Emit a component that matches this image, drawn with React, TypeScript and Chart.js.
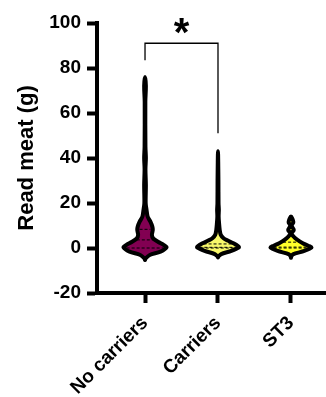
import React, { useEffect, useRef } from "react";
import { Chart, registerables } from "chart.js";
Chart.register(...registerables);

const categories = ["No carriers", "Carriers", "ST3"];
const fillColors = ["#820052", "#F8F86A", "#FFFF2A"];

// violin profiles: value levels and relative density (1 = widest)
const noCarriersLevels = [-5.3, -4.6, -3.1, -1.6, 0.3, 1.3, 2.8, 4.3, 5.8, 8, 9.5, 11.7, 14, 17, 20, 28, 35, 40, 45, 65, 72, 76];
const noCarriersDensity = [0, 0.03, 0.22, 0.72, 1, 0.88, 0.6, 0.38, 0.32, 0.36, 0.34, 0.25, 0.12, 0.07, 0.03, 0.04, 0.02, 0.04, 0.02, 0.015, 0.04, 0];
const carriersLevels = [-4.2, -3.9, -2.7, -1.3, 0.3, 0.9, 2.1, 3.3, 4.3, 5.8, 8, 11, 14, 17, 20, 30, 43];
const carriersDensity = [0, 0.01, 0.15, 0.62, 0.97, 0.93, 0.72, 0.45, 0.26, 0.13, 0.08, 0.05, 0.03, 0.04, 0.025, 0.02, 0];
const st3Levels = [-4.3, -3.9, -2.8, -1.3, 0.2, 1, 2.1, 3.6, 5, 6.5, 8, 9.9, 11.5, 14];
const st3Density = [0, 0.01, 0.09, 0.62, 0.95, 0.8, 0.55, 0.3, 0.13, 0.03, 0.13, 0.03, 0.11, 0];

// quartiles (Q1, median, Q3)
const noCarriersQuartiles = [0, 3.6, 8.3];
const carriersQuartiles = [0, 0.3, 1.8];
const st3Quartiles = [0, 0.4, 2.6];

const yTicks = [-20, 0, 20, 40, 60, 80, 100];

// significance bracket between group 1 and group 2
const bracketGroups = [1, 2];
const bracketTop = 91;
const bracketLeftEnd = 83.5;
const bracketRightEnd = 51;
const bracketLabel = "*";
const bracketLabelValue = 90;

const FONT = "'Liberation Sans', Arial, sans-serif";
const MAX_HALF = 0.295; // widest half-width in category units

function violinPoints(center: number, levels: number[], dens: number[]) {
  const right = levels.map((y, i) => ({ x: center + dens[i] * MAX_HALF, y }));
  const left: { x: number; y: number }[] = [];
  for (let i = levels.length - 2; i >= 0; i--) {
    left.push({ x: center - dens[i] * MAX_HALF, y: levels[i] });
  }
  return [...right, ...left];
}

function halfAt(levels: number[], dens: number[], v: number) {
  for (let i = 0; i < levels.length - 1; i++) {
    if (v >= levels[i] && v <= levels[i + 1]) {
      const t = (v - levels[i]) / (levels[i + 1] - levels[i]);
      return (dens[i] + t * (dens[i + 1] - dens[i])) * MAX_HALF;
    }
  }
  return 0;
}

export default function App() {
  const ref = useRef<HTMLCanvasElement | null>(null);
  useEffect(() => {
    if (!ref.current) return;
    const groups = [
      { levels: noCarriersLevels, dens: noCarriersDensity, q: noCarriersQuartiles },
      { levels: carriersLevels, dens: carriersDensity, q: carriersQuartiles },
      { levels: st3Levels, dens: st3Density, q: st3Quartiles },
    ];
    const datasets: any[] = [];
    groups.forEach((g, i) => {
      datasets.push({
        data: violinPoints(i + 1, g.levels, g.dens),
        borderColor: "#000",
        backgroundColor: fillColors[i],
        borderWidth: 4,
        fill: "shape",
        tension: 0.3,
        pointRadius: 0,
        borderJoinStyle: "round",
        borderCapStyle: "round",
        order: 10,
      });
    });
    groups.forEach((g, i) => {
      g.q.forEach((qv) => {
        const h = Math.max(0, halfAt(g.levels, g.dens, qv) - 0.03);
        datasets.push({
          data: [
            { x: i + 1 - h, y: qv },
            { x: i + 1 + h, y: qv },
          ],
          borderColor: "#000",
          borderWidth: 1,
          borderDash: [3, 2],
          pointRadius: 0,
          fill: false,
          tension: 0,
          order: 5,
        });
      });
    });
    datasets.push({
      data: [
        { x: bracketGroups[0], y: bracketLeftEnd },
        { x: bracketGroups[0], y: bracketTop },
        { x: bracketGroups[1], y: bracketTop },
        { x: bracketGroups[1], y: bracketRightEnd },
      ],
      borderColor: "#000",
      borderWidth: 1.3,
      pointRadius: 0,
      fill: false,
      tension: 0,
      order: 1,
    });

    const starPlugin = {
      id: "star",
      afterDatasetsDraw(chart: any) {
        const { ctx, scales } = chart;
        ctx.save();
        ctx.font = `bold 40px ${FONT}`;
        ctx.fillStyle = "#000";
        ctx.textAlign = "center";
        ctx.textBaseline = "alphabetic";
        ctx.fillText(
          bracketLabel,
          scales.x.getPixelForValue((bracketGroups[0] + bracketGroups[1]) / 2),
          scales.y.getPixelForValue(bracketLabelValue)
        );
        ctx.restore();
      },
    };

    const tickFont = { family: FONT, size: 19, weight: "bold" as const };
    const chart = new Chart(ref.current, {
      type: "line",
      data: { datasets },
      plugins: [starPlugin],
      options: {
        animation: false,
        responsive: false,
        devicePixelRatio: 1,
        layout: { padding: { top: 23, right: 0, left: 0, bottom: 0 } },
        plugins: { legend: { display: false }, tooltip: { enabled: false } },
        scales: {
          x: {
            type: "linear",
            min: 0.342,
            max: 3.48,
            afterBuildTicks: (s: any) => {
              s.ticks = categories.map((_, i) => ({ value: i + 1 }));
            },
            afterFit: (s: any) => {
              s.height = 104;
            },
            ticks: {
              callback: (_v: any, idx: number) => categories[idx] ?? "",
              minRotation: 45,
              maxRotation: 45,
              autoSkip: false,
              font: tickFont,
              color: "#000",
              padding: 9,
            },
            grid: { drawOnChartArea: false, tickLength: 10, tickWidth: 4, tickColor: "#000" },
            border: { color: "#000", width: 4 },
          },
          y: {
            type: "linear",
            min: -20,
            max: 100,
            afterBuildTicks: (s: any) => {
              s.ticks = yTicks.map((v) => ({ value: v }));
            },
            afterFit: (s: any) => {
              s.width = 97;
            },
            ticks: { font: tickFont, color: "#000", padding: 6 },
            grid: { drawOnChartArea: false, tickLength: 10, tickWidth: 4, tickColor: "#000" },
            border: { color: "#000", width: 4 },
            title: {
              display: true,
              text: "Read meat (g)",
              color: "#000",
              font: { family: FONT, size: 22, weight: "bold" },
              padding: { top: 14, bottom: 0 },
            },
          },
        },
      } as any,
    });
    return () => chart.destroy();
  }, []);
  return (
    <div style={{ position: "absolute", left: 0, top: 0, width: 326, height: 397, background: "#fff" }}>
      <canvas ref={ref} width={326} height={397} />
    </div>
  );
}
